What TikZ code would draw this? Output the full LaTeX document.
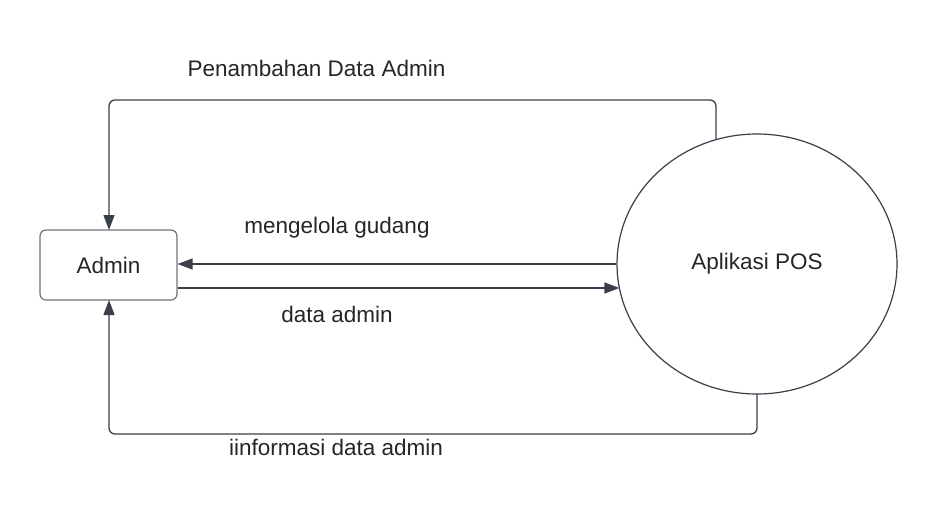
\documentclass[tikz,border=0pt]{standalone}
\usepackage{fontspec}
\setmainfont{Liberation Sans}
\usetikzlibrary{arrows.meta,shapes.geometric}
\definecolor{ln}{HTML}{3A3F4A}
\definecolor{bx}{HTML}{70757C}
\tikzset{
  conn/.style={draw=ln, line width=1.3pt, rounded corners=6pt},
  arr/.style={conn, -{Triangle[length=15pt,width=11pt]}},
  lbl/.style={font=\fontsize{22.5}{24}\selectfont, text=black!85, inner sep=0pt},
}
\begin{document}
\begin{tikzpicture}[x=1pt,y=-1pt]
\useasboundingbox[fill=white] (0,0) rectangle (937,520);
\node[draw=bx, line width=1.2pt, rounded corners=6pt, minimum width=137pt, minimum height=70pt, inner sep=0pt, lbl] (ad) at (108.5,265) {Admin};
\node[draw=ln, line width=1.2pt, ellipse, minimum width=280pt, minimum height=260pt, inner sep=0pt, lbl] (ap) at (757,264) {Aplikasi POS};
\coordinate (t1) at (716,139.7);
\coordinate (b1) at (757,394);
\coordinate (m2) at (619.4,288);
\draw[arr] (t1) |- (109,100) -- (109,230);
\draw[arr] (b1) |- (109,434) -- (109,300);
\draw[arr] (ap.west) -- (ad.east |- ap.west);
\draw[arr] (ad.east |- m2) -- (m2);
\node[lbl] (l1) at (316.5,68) {Penambahan Data Admin};
\node[lbl] (l2) at (337,228) {mengelola gudang};
\node[lbl] (l3) at (337,314) {data admin};
\node[lbl] (l4) at (336,447) {iinformasi data admin};
\end{tikzpicture}
\end{document}
